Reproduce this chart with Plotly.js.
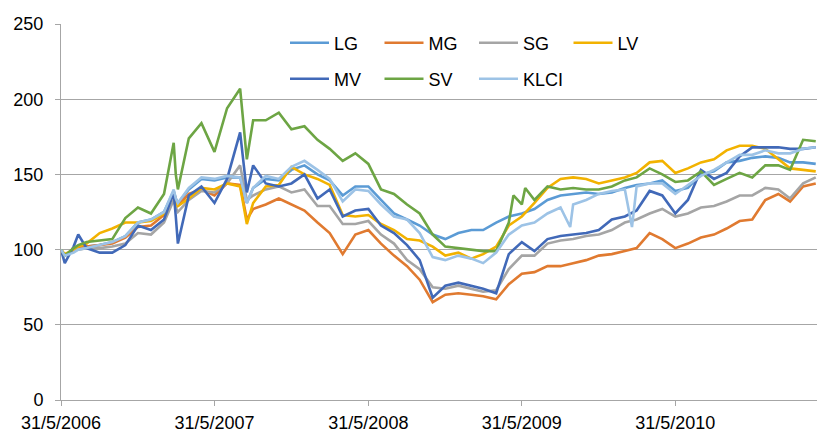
<!DOCTYPE html>
<html>
<head>
<meta charset="utf-8">
<script src="https://cdn.plot.ly/plotly-3.0.1.min.js"></script>
<style>
  html, body { margin: 0; padding: 0; background: #fff; }
  #chart { width: 817px; height: 433px; }
</style>
</head>
<body>
<div id="chart"></div>
<script>
// Dates (month ends plus a few intra-month points where the lines spike)
var dates = [
  '2006-05-31','2006-06-09','2006-06-30','2006-07-11','2006-07-31','2006-08-31','2006-09-30','2006-10-31','2006-11-30','2006-12-31',
  '2007-01-31','2007-02-23','2007-02-28','2007-03-05','2007-03-31','2007-04-30','2007-05-31','2007-06-30','2007-07-31','2007-08-16',
  '2007-08-31','2007-09-30','2007-10-31','2007-11-30','2007-12-31','2008-01-31','2008-02-29','2008-03-31','2008-04-30','2008-05-31',
  '2008-06-30','2008-07-31','2008-08-31','2008-09-30','2008-10-31','2008-11-30','2008-12-31','2009-01-31','2009-02-28','2009-03-31',
  '2009-04-30','2009-05-11','2009-05-31','2009-06-08','2009-06-30','2009-07-31','2009-08-31','2009-09-23','2009-09-30','2009-10-31',
  '2009-11-30','2009-12-31','2010-01-31','2010-02-17','2010-02-28','2010-03-31','2010-04-30','2010-05-31','2010-06-30','2010-07-31',
  '2010-08-31','2010-09-30','2010-10-31','2010-11-30','2010-12-31','2011-01-31','2011-02-28','2011-03-31','2011-04-30'
];

var LG = [100,96,99,101,102,103,105,109,118,120,
  125,139,134,131,140,147,146,148,148,131,
  141,147,146,153,156,150,146,136,142,142,
  133,124,120,116,110,107,111,113,113,118,
  122,null,124,null,127,133,136,null,137,138,
  137,138,141,null,143,144,146,139,141,150,
  152,158,159,161,162,161,158,158,157];

var MG = [100,96,99,101,102,103,104,108,115,116,
  123,138,133,129,137,140,136,144,143,120,
  127,130,134,130,126,118,111,97,110,113,
  104,96,89,80,65,70,71,70,69,67,
  77,null,84,null,85,89,89,null,91,93,
  96,97,99,null,101,111,107,101,104,108,
  110,114,119,120,133,137,132,142,144];

var SG = [100,96,99,100,101,101,102,104,111,110,
  118,133,128,125,133,139,138,144,156,133,
  136,140,142,138,140,129,129,117,117,119,
  110,104,93,87,75,74,76,74,72,73,
  87,null,96,null,96,104,106,null,107,109,
  110,113,118,null,120,124,127,122,124,128,
  129,132,136,136,141,140,134,144,148];

var LV = [100,97,100,102,104,111,114,118,118,119,
  124,137,132,129,134,141,140,144,142,117,
  131,142,143,155,150,147,143,123,122,123,
  117,113,107,106,102,96,98,94,97,102,
  116,null,122,null,131,141,147,null,148,147,
  144,146,148,null,151,158,159,151,154,158,
  160,166,169,169,167,160,154,153,152];

var MV = [100,91,102,110,101,98,98,103,116,113,
  120,138,122,104,136,142,131,147,178,138,
  156,144,142,144,150,134,140,122,126,127,
  116,111,103,93,68,76,78,76,74,71,
  97,null,105,null,99,107,109,null,110,111,
  113,120,122,null,126,139,136,124,133,153,
  147,151,162,168,168,168,167,167,168];

var SV = [100,96,101,103,105,106,107,121,128,124,
  137,171,150,140,174,184,165,194,207,160,
  186,186,191,180,182,173,167,159,164,157,
  140,137,130,124,110,102,101,100,99,99,
  118,136,130,141,133,142,140,null,141,140,
  140,142,146,null,148,154,150,145,146,152,
  143,147,151,148,156,156,153,173,172];

var KLCI = [100,96,98,100,101,103,105,109,118,120,
  125,140,134,131,141,148,147,149,148,131,
  141,149,147,155,159,153,147,132,140,139,
  130,122,120,111,95,93,96,94,91,98,
  110,null,116,null,118,124,128,115,130,133,
  137,139,140,115,142,144,144,137,143,149,
  153,158,163,163,166,164,164,167,168];

var seriesNames = ['LG','MG','SG','LV','MV','SV','KLCI'];
var seriesValues = [LG, MG, SG, LV, MV, SV, KLCI];
var seriesColors = ['#5B9BD5','#E07A30','#A5A5A5','#F2B200','#4169B8','#6DA544','#9DC3E6'];
var seriesLegend = ['legend','legend','legend','legend','legend2','legend2','legend2'];

var tickDates = ['2006-05-31','2007-05-31','2008-05-31','2009-05-31','2010-05-31'];
var tickLabels = ['31/5/2006','31/5/2007','31/5/2008','31/5/2009','31/5/2010'];

var traces = seriesNames.map(function(name, i) {
  return {
    type: 'scatter',
    mode: 'lines',
    name: name,
    x: dates,
    y: seriesValues[i],
    connectgaps: true,
    line: { color: seriesColors[i], width: 2.6 },
    legend: seriesLegend[i],
    hoverinfo: 'skip'
  };
});

var FONT = 'Liberation Sans, Arial, sans-serif';
var legendBase = {
  orientation: 'h',
  xanchor: 'left',
  yanchor: 'middle',
  font: { family: FONT, size: 18, color: '#000' },
  bgcolor: 'rgba(0,0,0,0)',
  borderwidth: 0,
  itemwidth: 39,
  entrywidth: 40.5,
  entrywidthmode: 'pixels'
};

var layout = {
  width: 817,
  height: 433,
  margin: { l: 61, r: 0, t: 24, b: 33 },
  paper_bgcolor: '#ffffff',
  plot_bgcolor: '#ffffff',
  font: { family: FONT, size: 18, color: '#000' },
  showlegend: true,
  legend: Object.assign({}, legendBase, { x: 0.2963, y: 0.9495 }),
  legend2: Object.assign({}, legendBase, { x: 0.2963, y: 0.8537 }),
  xaxis: {
    type: 'date',
    range: ['2006-05-31', '2011-05-03'],
    tickmode: 'array',
    tickvals: tickDates,
    ticktext: tickLabels,
    ticks: 'outside',
    ticklen: 5,
    tickcolor: '#A6A6A6',
    tickwidth: 1,
    ticklabelstandoff: 1,
    showgrid: false,
    showline: true,
    linecolor: '#A6A6A6',
    linewidth: 1,
    zeroline: false,
    tickfont: { family: FONT, size: 18, color: '#000' }
  },
  yaxis: {
    range: [0, 250],
    tickmode: 'linear',
    tick0: 0,
    dtick: 50,
    ticks: 'outside',
    ticklen: 5,
    tickcolor: '#A6A6A6',
    tickwidth: 1,
    ticklabelstandoff: 8,
    showgrid: true,
    gridcolor: '#A6A6A6',
    gridwidth: 1,
    showline: true,
    linecolor: '#A6A6A6',
    linewidth: 1,
    zeroline: false,
    tickfont: { family: FONT, size: 18, color: '#000' }
  }
};

Plotly.newPlot('chart', traces, layout, { staticPlot: true, displayModeBar: false });
</script>
</body>
</html>
